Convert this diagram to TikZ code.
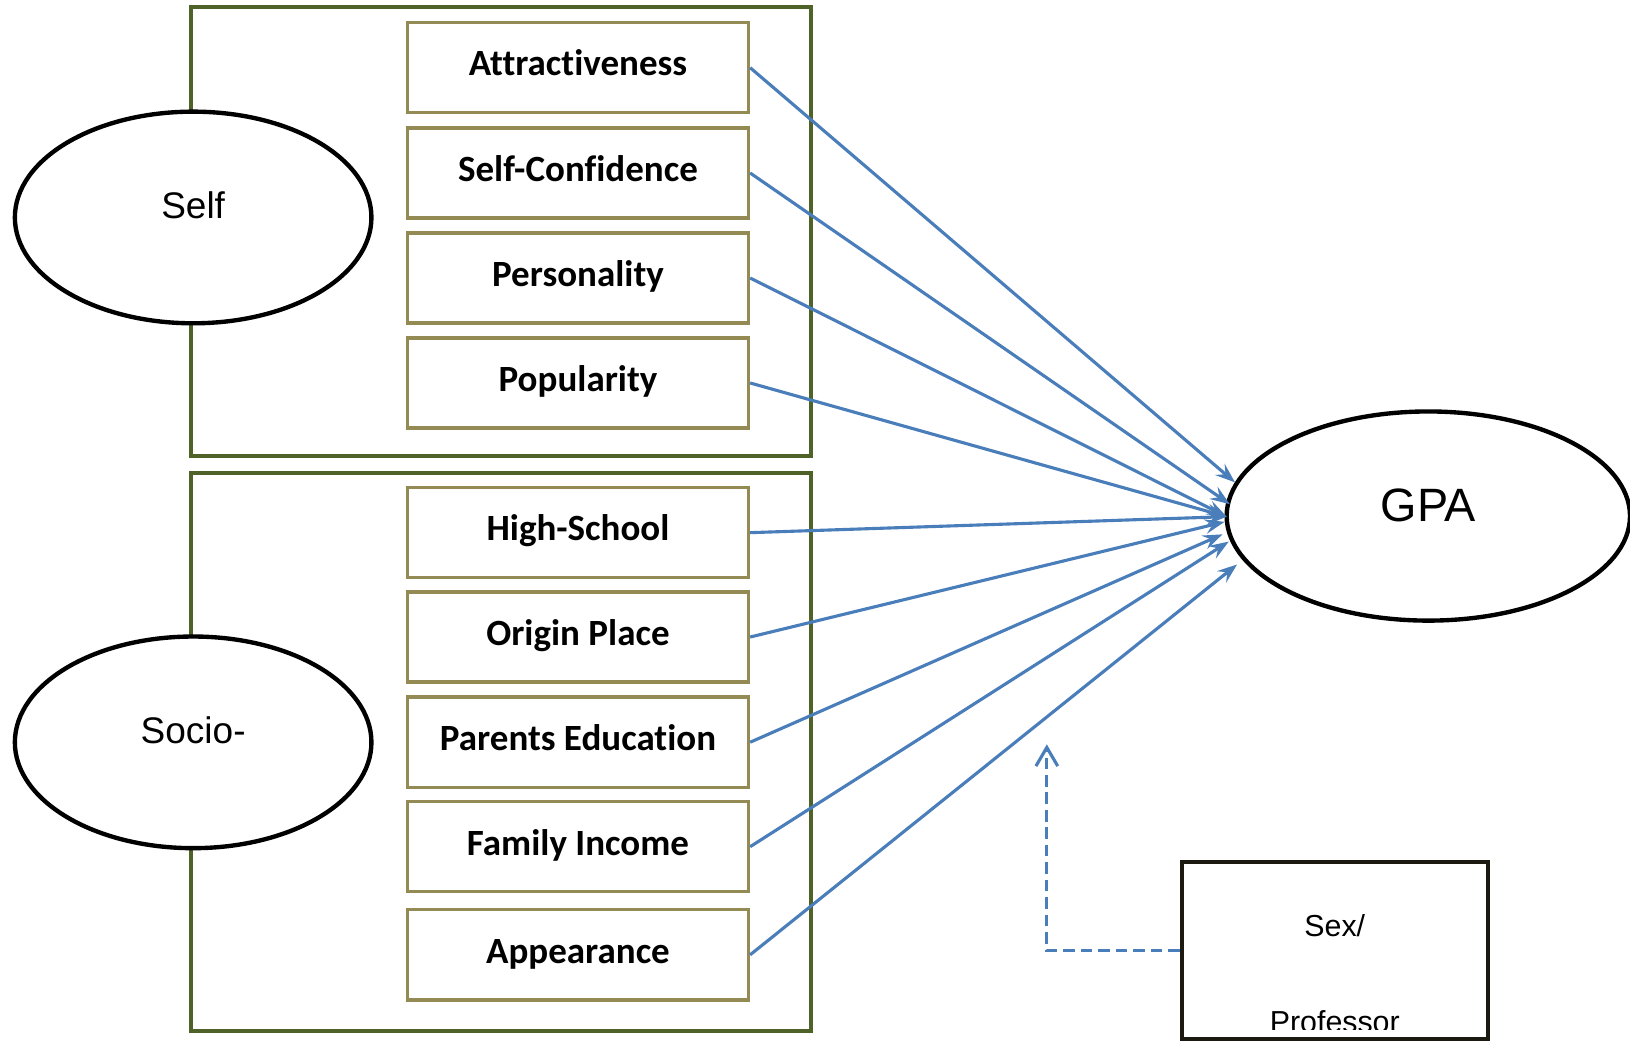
\documentclass[tikz,border=0pt]{standalone}
\usepackage{fontspec}
\setmainfont{Liberation Sans}
\newfontfamily\carlito{Carlito}[RawFeature=-liga]
\usetikzlibrary{shapes.geometric,arrows.meta}
\definecolor{groupgreen}{HTML}{4F6228}
\definecolor{itemkhaki}{HTML}{948A54}
\definecolor{linkblue}{HTML}{4A7EBB}
\definecolor{boxdark}{HTML}{1C1A10}
\begin{document}
\begin{tikzpicture}[x=0.5pt,y=-0.5pt,
  groupbox/.style={draw=groupgreen,line width=2pt,inner sep=0pt},
  item/.style={draw=itemkhaki,line width=1.6pt,fill=white,minimum width=164pt,
    minimum height=43.4pt,inner sep=0pt,text height=11pt,text depth=3pt,
    font=\carlito\bfseries\fontsize{17.8pt}{20pt}\selectfont},
  construct/.style={ellipse,draw=black,line width=2.1pt,fill=white,inner sep=0pt},
  link/.style={draw=linkblue,line width=1.5pt,
    -{Stealth[length=9.5pt,width=7pt,inset=3.5pt]}},
  moderator/.style={draw=linkblue,line width=1.5pt,dash pattern=on 5.6pt off 2.8pt,
    -{Straight Barb[length=9pt,width=10.5pt]}},
  plainlabel/.style={anchor=base,inner sep=0pt,font=\fontsize{14.6pt}{17pt}\selectfont}]

\useasboundingbox (0,0) rectangle (1568,1001);

% group frames
\node[groupbox,minimum width=298pt,minimum height=216pt] (selfgroup) at (482,223) {};
\node[groupbox,minimum width=298pt,minimum height=268.5pt] (sociogroup) at (482,723.5) {};

% latent constructs
\node[construct,minimum width=171.5pt,minimum height=101.8pt,text height=6pt,text depth=5pt,
  font=\fontsize{17.8pt}{20pt}\selectfont] (self) at (185.8,209.2) {Self};
\node[construct,minimum width=171.5pt,minimum height=101.8pt,text height=6pt,text depth=5pt,
  font=\fontsize{17.8pt}{20pt}\selectfont] (socio) at (185.8,714.1) {Socio-};
\node[construct,minimum width=194pt,minimum height=100.6pt,text height=9pt,text depth=3.4pt,
  font=\fontsize{22.5pt}{26pt}\selectfont] (gpa) at (1374,496.4) {GPA};

% indicators
\node[item] (attr) at (556,65.1) {Attractiveness};
\node[item] (conf) at (556,166.4) {Self-Confidence};
\node[item] (pers) at (556,267.4) {Personality};
\node[item] (popu) at (556,368.4) {Popularity};
\node[item] (high) at (556,512.4) {High-School};
\node[item] (orig) at (556,612.8) {Origin Place};
\node[item] (pare) at (556,714) {Parents Education};
\node[item] (fami) at (556,814.5) {Family Income};
\node[item] (appe) at (556,918.5) {Appearance};

% moderator box
\node[draw=boxdark,line width=2pt,minimum width=147.4pt,minimum height=85.5pt,inner sep=0pt]
  (sexbox) at (1284.2,914.5) {};
\begin{scope}
  \clip (1140,832) rectangle (1429,990);
  \node[plainlabel] (sexlabel) at (1284,901) {Sex/};
  \node[plainlabel] (proflabel) at (1284,993) {Professor};
\end{scope}

% arrow tips on the GPA border
\coordinate (tA) at (1188,464);
\coordinate (tB) at (1183,485);
\coordinate (tC) at (1180,497);
\coordinate (tD) at (1180,497);
\coordinate (tE) at (1180,497);
\coordinate (tF) at (1178,502);
\coordinate (tG) at (1176,514);
\coordinate (tH) at (1182,521);
\coordinate (tI) at (1190,543);

\draw[link] (attr.east) -- (tA);
\draw[link] (conf.east) -- (tB);
\draw[link] (pers.east) -- (tC);
\draw[link] (popu.east) -- (tD);
\draw[link] (high.east) -- (tE);
\draw[link] (orig.east) -- (tF);
\draw[link] (pare.east) -- (tG);
\draw[link] (fami.east) -- (tH);
\draw[link] (appe.east) -- (tI);

% moderating path
\coordinate (modtip) at (1007,716);
\draw[moderator] (sexbox.west) -| (modtip);

\end{tikzpicture}
\end{document}
